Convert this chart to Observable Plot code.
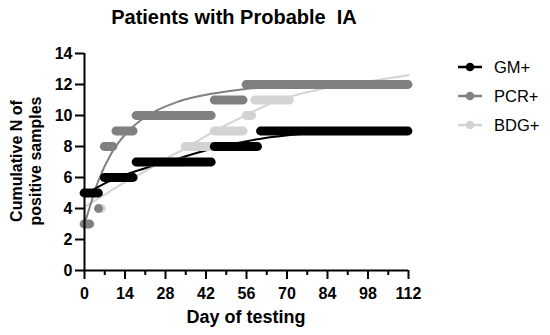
<!DOCTYPE html>
<html>
<head>
<meta charset="utf-8">
<script src="https://cdn.jsdelivr.net/npm/d3@7"></script>
<script src="https://cdn.jsdelivr.net/npm/@observablehq/plot@0.6"></script>
<style>
  html, body { margin: 0; padding: 0; background: #fff; }
  #wrap { position: relative; width: 550px; height: 335px; font-family: "Liberation Sans", Arial, sans-serif; }
  #title { position: absolute; left: 0; width: 468px; top: 6px; text-align: center; font-size: 20px; font-weight: bold; color: #000; white-space: pre; }
  #xlabel { position: absolute; left: 84px; width: 324px; top: 307px; text-align: center; font-size: 18px; font-weight: bold; }
  #ylabel { position: absolute; left: 7px; top: 161px; width: 0; height: 0; }
  #ylabel div { position: absolute; transform: translate(-50%, -50%) rotate(-90deg); white-space: nowrap; font-size: 16px; font-weight: bold; line-height: 19px; text-align: center; left: 19px; top: 0; }
  #legend { position: absolute; left: 0; top: 0; }
  #chart svg text { font-weight: bold; font-size: 16px; }
</style>
</head>
<body>
<div id="wrap">
  <div id="chart"></div>
  <div id="title"></div>
  <div id="xlabel"></div>
  <div id="ylabel"><div></div></div>
  <svg id="legend" width="550" height="335"></svg>
</div>
<script>
// ---- data ----
const titleText = "Patients with Probable  IA";
const xLabel = "Day of testing";
const yLabelLines = ["Cumulative N of", "positive samples"];
const seriesNames = ["GM+", "PCR+", "BDG+"];
const seriesColors = ["#000000", "#808080", "#d3d3d3"];

const xMajorTicks = [0, 14, 28, 42, 56, 70, 84, 98, 112];
const xMinorTicks = [7, 21, 35, 49, 63, 77, 91, 105];
const yTicks = [0, 2, 4, 6, 8, 10, 12, 14];

// runs of points: [cumulative N, first day, last day]
const gmSteps  = [[5, 0, 5], [6, 7, 17], [7, 18, 44], [8, 45, 60], [9, 61, 112]];
const pcrSteps = [[3, 0, 2], [4, 5, 5], [8, 7, 10], [9, 11, 17], [10, 18, 44], [11, 45, 55], [12, 56, 112]];
const bdgSteps = [[4, 6, 6], [6, 7, 17], [7, 18, 34], [8, 35, 44], [9, 45, 55], [10, 56, 58], [11, 59, 71], [12, 72, 112]];

// fitted curves, points: [day, N]
const gmFit  = [[0, 4.9], [9, 5.8], [21, 6.6], [32, 7.2], [44, 7.85], [61, 8.5], [75, 8.8], [90, 8.95], [112, 9.05]];
const pcrFit = [[0, 3.0], [1, 3.6], [4.8, 5.8], [9.4, 7.6], [15.2, 9.0], [21, 9.9], [32.5, 10.9], [44, 11.4], [55, 11.7], [67, 11.85], [85, 11.93], [112, 11.97]];
const bdgFit = [[0, 4.1], [7, 4.9], [14, 5.7], [21, 6.4], [28, 7.2], [35, 7.9], [44, 8.9], [55, 9.95], [66.6, 10.95], [81.6, 11.7], [98, 12.2], [112, 12.6]];

// ---- chart ----
const fits = [gmFit, pcrFit, bdgFit];
const steps = [gmSteps, pcrSteps, bdgSteps];
const drawOrder = [2, 1, 0];

const marks = [];
for (const i of drawOrder) {
  marks.push(Plot.line(fits[i], {x: d => d[0], y: d => d[1], curve: "monotone-x", stroke: seriesColors[i], strokeWidth: 2}));
}
for (const i of drawOrder) {
  marks.push(Plot.ruleY(steps[i], {y: d => d[0], x1: d => d[1], x2: d => d[2], stroke: seriesColors[i], strokeWidth: 8.8, strokeLinecap: "round"}));
}
marks.push(
  Plot.axisX(xMajorTicks, {tickSize: 9, tickPadding: 8, fontSize: 16, fontWeight: "bold", strokeWidth: 2, label: null, tickFormat: d => String(d)}),
  Plot.axisX(xMinorTicks, {tickSize: 5, strokeWidth: 2, label: null, tickFormat: () => ""}),
  Plot.axisY(yTicks, {tickSize: 9, tickPadding: 3, fontSize: 16, fontWeight: "bold", strokeWidth: 2, label: null, tickFormat: d => String(d)}),
  Plot.ruleY([0], {stroke: "#000", strokeWidth: 2}),
  Plot.ruleX([0], {stroke: "#000", strokeWidth: 2})
);

const chart = Plot.plot({
  width: 550,
  height: 335,
  marginLeft: 84,
  marginRight: 142,
  marginTop: 53,
  marginBottom: 65,
  x: {domain: [0, 112]},
  y: {domain: [0, 14]},
  style: {fontFamily: "'Liberation Sans', Arial, sans-serif", fontSize: "16px", color: "#000", background: "transparent"},
  marks
});
document.getElementById("chart").appendChild(chart);

document.getElementById("title").textContent = titleText;
document.getElementById("xlabel").textContent = xLabel;
document.querySelector("#ylabel div").innerHTML = yLabelLines.join("<br>");

// legend
const leg = d3.select("#legend");
const legY = [67, 96, 125];
seriesNames.forEach((name, i) => {
  const g = leg.append("g").attr("transform", `translate(458,${legY[i]})`);
  g.append("line").attr("x1", 0).attr("x2", 24).attr("y1", 0).attr("y2", 0).attr("stroke", seriesColors[i]).attr("stroke-width", 2.5);
  g.append("circle").attr("cx", 12).attr("cy", 0).attr("r", 4.3).attr("fill", seriesColors[i]);
  g.append("text").attr("x", 36).attr("y", 0).attr("dy", "0.36em")
    .attr("font-family", "'Liberation Sans', Arial, sans-serif").attr("font-size", 16.5).attr("fill", "#000").text(name);
});
</script>
</body>
</html>
